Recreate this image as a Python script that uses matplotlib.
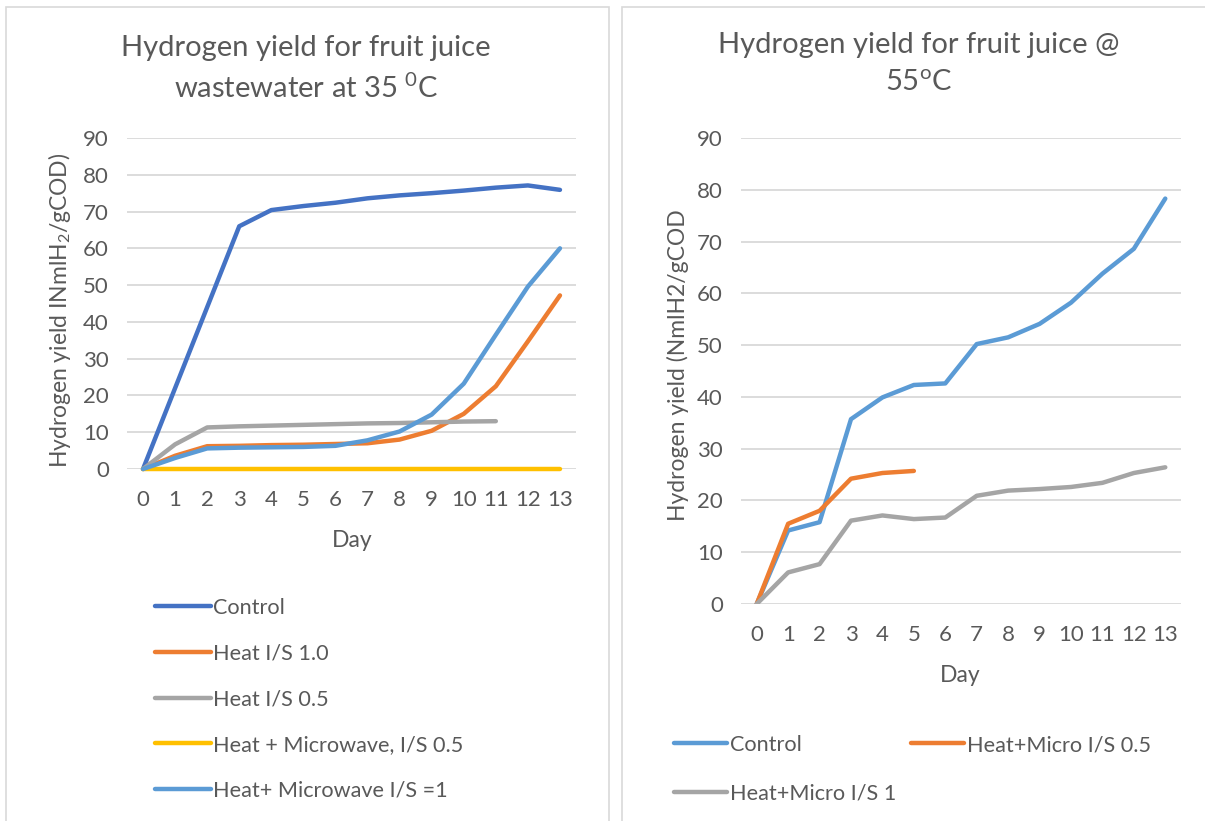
import matplotlib
matplotlib.use("Agg")
import matplotlib.pyplot as plt
from matplotlib.lines import Line2D
from matplotlib.patches import Rectangle

# ---------------------- 数据 ----------------------
days = list(range(14))

# 35 C
control_35 = [0, 22, 44, 66.0, 70.4, 71.5, 72.4, 73.6, 74.4, 75.0, 75.7, 76.5, 77.1, 75.9]
heat_10 = [0, 3.6, 6.2, 6.3, 6.5, 6.6, 6.8, 7.0, 8.0, 10.4, 15.0, 22.5, 34.7, 47.2]
heat_05 = [0, 6.7, 11.3, 11.6, 11.8, 12.0, 12.2, 12.4, 12.5, 12.7, 12.9, 13.0]
heat_mw_05 = [0] * 14
heat_mw_1 = [0, 3.0, 5.6, 5.8, 5.9, 6.0, 6.3, 7.8, 10.2, 14.8, 23.2, 36.5, 49.6, 60.0]

# 55 C
control_55 = [0, 14.2, 15.8, 35.7, 39.9, 42.3, 42.6, 50.2, 51.5, 54.1, 58.2, 63.8, 68.6, 78.3]
hm_05 = [0, 15.5, 18.0, 24.2, 25.3, 25.7]
hm_1 = [0, 6.1, 7.7, 16.1, 17.1, 16.4, 16.7, 20.9, 21.9, 22.2, 22.6, 23.4, 25.3, 26.4]

labels_35 = ["Control", "Heat I/S 1.0", "Heat I/S 0.5",
             "Heat + Microwave, I/S 0.5", "Heat+ Microwave I/S =1"]
labels_55 = ["Control", "Heat+Micro I/S 0.5", "Heat+Micro I/S 1"]

# ---------------------- 样式 ----------------------
plt.rcParams["font.family"] = ["Lato", "DejaVu Sans"]
plt.rcParams["mathtext.fontset"] = "custom"
plt.rcParams["mathtext.rm"] = "Lato"
plt.rcParams["mathtext.it"] = "Lato"
TXT = "#595959"
GRID = "#d9d9d9"
LW = 3.2
FS_TITLE = 21
FS_TICK = 16
FS_LABEL = 16.5
FS_LEG = 15.6

W, H = 1205, 821
fig = plt.figure(figsize=(W / 100, H / 100), dpi=100)


def fx(x):
    return x / W


def fy(y):
    return 1 - y / H


# 面板边框
fig.patches.append(Rectangle((fx(6), fy(830)), fx(603), (830 - 7) / H, transform=fig.transFigure,
                             fill=False, edgecolor=GRID, lw=1.2))
fig.patches.append(Rectangle((fx(622), fy(830)), fx(600), (830 - 7) / H, transform=fig.transFigure,
                             fill=False, edgecolor=GRID, lw=1.2))


def style_axes(ax):
    ax.set_xlim(-0.5, 13.5)
    ax.set_ylim(0, 90)
    ax.set_yticks(range(0, 91, 10))
    ax.set_xticks(days)
    ax.grid(axis="y", color=GRID, lw=1.3)
    ax.set_axisbelow(True)
    for s in ax.spines.values():
        s.set_visible(False)
    ax.tick_params(length=0, labelsize=FS_TICK, colors=TXT)
    ax.tick_params(axis="y", pad=13)
    ax.tick_params(axis="x", pad=15)


# ---------------------- 左图 35 C ----------------------
ax1 = fig.add_axes([fx(127), fy(469), fx(449), 331 / H])
style_axes(ax1)
c35 = ["#4472C4", "#ED7D31", "#A5A5A5", "#FFC000", "#5B9BD5"]
series_35 = [control_35, heat_10, heat_05, heat_mw_05, heat_mw_1]
for vals, col, lab in zip(series_35, c35, labels_35):
    ax1.plot(days[:len(vals)], vals, color=col, lw=LW, solid_capstyle="round",
             solid_joinstyle="round", label=lab, clip_on=False)

fig.text(fx(306), fy(48), "Hydrogen yield for fruit juice", ha="center", va="center",
         fontsize=FS_TITLE, color=TXT)
fig.text(fx(306), fy(88), "wastewater at 35 $^{0}$C", ha="center", va="center",
         fontsize=FS_TITLE, color=TXT)
fig.text(fx(60), fy(310), "Hydrogen yield INmlH$_{2}$/gCOD)", rotation=90, ha="center",
         va="center", fontsize=FS_LABEL, color=TXT)
fig.text(fx(352), fy(540), "Day", ha="center", va="center", fontsize=FS_LABEL, color=TXT)

h35 = [Line2D([], [], color=c, lw=LW, solid_capstyle="round") for c in c35]
fig.legend(h35, labels_35, loc="upper left", bbox_to_anchor=(fx(155), fy(598)),
           frameon=False, fontsize=FS_LEG, labelcolor=TXT, handlelength=2.58,
           handletextpad=0.12, labelspacing=1.18, borderpad=0, borderaxespad=0)

# ---------------------- 右图 55 C ----------------------
ax2 = fig.add_axes([fx(741), fy(604), fx(440), 466 / H])
style_axes(ax2)
c55 = ["#5B9BD5", "#ED7D31", "#A5A5A5"]
for vals, col, lab in zip([control_55, hm_05, hm_1], c55, labels_55):
    ax2.plot(days[:len(vals)], vals, color=col, lw=LW, solid_capstyle="round",
             solid_joinstyle="round", label=lab)

fig.text(fx(919), fy(45), "Hydrogen yield for fruit juice @", ha="center", va="center",
         fontsize=FS_TITLE, color=TXT)
fig.text(fx(919), fy(82), "55$^{\\mathrm{o}}$C", ha="center", va="center",
         fontsize=FS_TITLE, color=TXT)
fig.text(fx(678), fy(365), "Hydrogen yield (NmlH2/gCOD", rotation=90, ha="center",
         va="center", fontsize=FS_LABEL, color=TXT)
fig.text(fx(960), fy(675), "Day", ha="center", va="center", fontsize=FS_LABEL, color=TXT)

h55 = [Line2D([], [], color=c, lw=LW, solid_capstyle="round") for c in c55]
fig.legend([h55[0], h55[2]], [labels_55[0], labels_55[2]], loc="upper left",
           bbox_to_anchor=(fx(674), fy(735)), frameon=False, fontsize=FS_LEG,
           labelcolor=TXT, handlelength=2.45, handletextpad=0.12,
           labelspacing=1.31, borderpad=0, borderaxespad=0)
fig.legend([h55[1]], [labels_55[1]], loc="upper left",
           bbox_to_anchor=(fx(911), fy(735)), frameon=False, fontsize=FS_LEG,
           labelcolor=TXT, handlelength=2.45, handletextpad=0.12,
           borderpad=0, borderaxespad=0)

plt.savefig("out.png", dpi=100)
